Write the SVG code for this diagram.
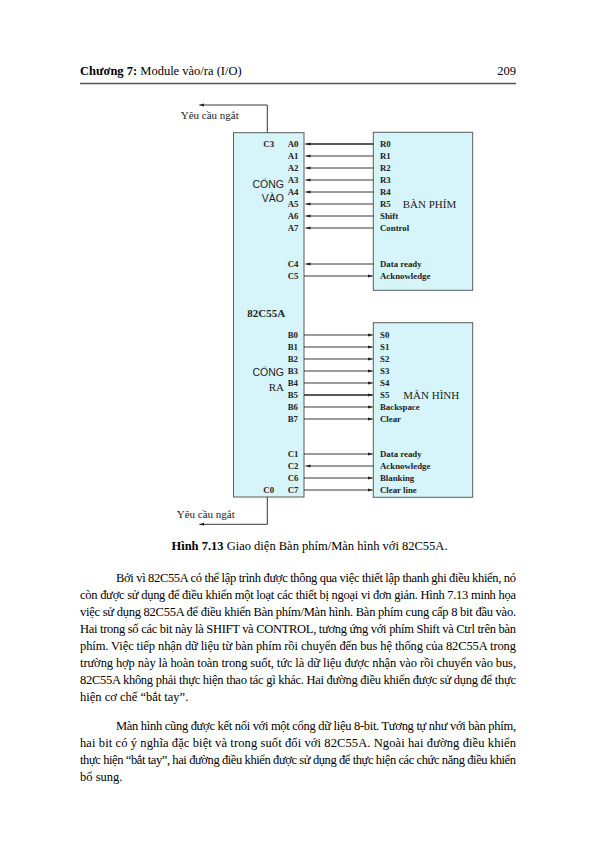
<svg xmlns="http://www.w3.org/2000/svg" width="595" height="842" viewBox="0 0 595 842">
<style>
.page{font-family:"Liberation Serif","Times New Roman",serif;font-size:12.5px;fill:#000}
.b{font-weight:bold}
.box{fill:#d6f5fa;stroke:#5a5a5a;stroke-width:1}
.pin{font-family:"Liberation Serif","Times New Roman",serif;font-size:8.8px;font-weight:bold;fill:#222}
.big{font-family:"Liberation Serif","Times New Roman",serif;font-size:11px;fill:#222}
.sans{font-family:"Liberation Sans",Arial,sans-serif;font-size:10.5px;fill:#222}
.wire{stroke:#222;stroke-width:0.9;fill:none}
</style>
<defs>
<marker id="ah" markerUnits="userSpaceOnUse" markerWidth="6" markerHeight="3.4" refX="5" refY="1.6" orient="auto">
<path d="M0,0 L5,1.6 L0,3.2 z" fill="#222"/>
</marker>
</defs>
<rect width="595" height="842" fill="#fff"/>

<!-- page header -->
<g id="header">
<text class="page" x="80" y="75"><tspan class="b">Chương 7:</tspan> Module vào/ra (I/O)</text>
<text class="page" x="516" y="75" text-anchor="end">209</text>
<line x1="80" y1="83.5" x2="516" y2="83.5" stroke="#555" stroke-width="1.3"/>
</g>

<!-- nodes -->
<g id="node-82c55a">
<rect class="box" x="233.5" y="132.7" width="70.5" height="364.3"/>
<text class="pin" x="263.3" y="147">C3</text>
<text class="pin" x="287.7" y="147">A0</text>
<text class="pin" x="287.7" y="159">A1</text>
<text class="pin" x="287.7" y="171">A2</text>
<text class="pin" x="287.7" y="183">A3</text>
<text class="pin" x="287.7" y="195">A4</text>
<text class="pin" x="287.7" y="207">A5</text>
<text class="pin" x="287.7" y="219">A6</text>
<text class="pin" x="287.7" y="231">A7</text>
<text class="pin" x="287.7" y="267">C4</text>
<text class="pin" x="287.7" y="279">C5</text>
<text class="sans" x="284" y="188" text-anchor="end">CỔNG</text>
<text class="sans" x="284" y="201.5" text-anchor="end">VÀO</text>
<text class="big b" x="247.3" y="316.5">82C55A</text>
<text class="pin" x="287.7" y="338">B0</text>
<text class="pin" x="287.7" y="350">B1</text>
<text class="pin" x="287.7" y="362">B2</text>
<text class="pin" x="287.7" y="374">B3</text>
<text class="pin" x="287.7" y="386">B4</text>
<text class="pin" x="287.7" y="398">B5</text>
<text class="pin" x="287.7" y="410">B6</text>
<text class="pin" x="287.7" y="422">B7</text>
<text class="pin" x="287.7" y="457">C1</text>
<text class="pin" x="287.7" y="469">C2</text>
<text class="pin" x="287.7" y="481">C6</text>
<text class="pin" x="287.7" y="493">C7</text>
<text class="pin" x="263.3" y="493">C0</text>
<text class="sans" x="284" y="376" text-anchor="end">CỔNG</text>
<text class="big" x="284" y="391" text-anchor="end">RA</text>
</g>

<g id="node-keyboard">
<rect class="box" x="373.3" y="132.3" width="99.4" height="158"/>
<text class="pin" x="380" y="147">R0</text>
<text class="pin" x="380" y="159">R1</text>
<text class="pin" x="380" y="171">R2</text>
<text class="pin" x="380" y="183">R3</text>
<text class="pin" x="380" y="195">R4</text>
<text class="pin" x="380" y="207">R5</text>
<text class="pin" x="380" y="219">Shift</text>
<text class="pin" x="380" y="231">Control</text>
<text class="pin" x="380" y="267">Data ready</text>
<text class="pin" x="380" y="279">Acknowledge</text>
<text class="big" x="402.7" y="208">BÀN PHÍM</text>
</g>

<g id="node-display">
<rect class="box" x="373.3" y="322.7" width="99.4" height="174.6"/>
<text class="pin" x="380" y="338">S0</text>
<text class="pin" x="380" y="350">S1</text>
<text class="pin" x="380" y="362">S2</text>
<text class="pin" x="380" y="374">S3</text>
<text class="pin" x="380" y="386">S4</text>
<text class="pin" x="380" y="398">S5</text>
<text class="pin" x="380" y="410">Backspace</text>
<text class="pin" x="380" y="422">Clear</text>
<text class="pin" x="380" y="457">Data ready</text>
<text class="pin" x="380" y="469">Acknowledge</text>
<text class="pin" x="380" y="481">Blanking</text>
<text class="pin" x="380" y="493">Clear line</text>
<text class="big" x="403.3" y="398.5">MÀN HÌNH</text>
</g>

<!-- connectors -->
<g id="connectors" class="wire">
<line x1="373.3" y1="144" x2="305.5" y2="144" marker-end="url(#ah)" stroke-width="1.3"/>
<line x1="373.3" y1="156" x2="305.5" y2="156" marker-end="url(#ah)"/>
<line x1="373.3" y1="168" x2="305.5" y2="168" marker-end="url(#ah)"/>
<line x1="373.3" y1="180" x2="305.5" y2="180" marker-end="url(#ah)"/>
<line x1="373.3" y1="192" x2="305.5" y2="192" marker-end="url(#ah)"/>
<line x1="373.3" y1="204" x2="305.5" y2="204" marker-end="url(#ah)"/>
<line x1="373.3" y1="216" x2="305.5" y2="216" marker-end="url(#ah)"/>
<line x1="373.3" y1="228" x2="305.5" y2="228" marker-end="url(#ah)"/>
<line x1="373.3" y1="264" x2="305.5" y2="264" marker-end="url(#ah)"/>
<line x1="304" y1="276" x2="372.8" y2="276" marker-end="url(#ah)"/>
<line x1="304" y1="335" x2="372.8" y2="335" marker-end="url(#ah)"/>
<line x1="304" y1="347" x2="372.8" y2="347" marker-end="url(#ah)"/>
<line x1="304" y1="359" x2="372.8" y2="359" marker-end="url(#ah)"/>
<line x1="304" y1="371" x2="372.8" y2="371" marker-end="url(#ah)"/>
<line x1="304" y1="383" x2="372.8" y2="383" marker-end="url(#ah)"/>
<line x1="304" y1="395" x2="372.8" y2="395" marker-end="url(#ah)" stroke-width="1.3"/>
<line x1="304" y1="407" x2="372.8" y2="407" marker-end="url(#ah)"/>
<line x1="304" y1="419" x2="372.8" y2="419" marker-end="url(#ah)"/>
<line x1="304" y1="454" x2="372.8" y2="454" marker-end="url(#ah)"/>
<line x1="373.3" y1="466" x2="305.5" y2="466" marker-end="url(#ah)"/>
<line x1="304" y1="478" x2="372.8" y2="478" marker-end="url(#ah)"/>
<line x1="304" y1="490" x2="372.8" y2="490" marker-end="url(#ah)"/>
<polyline points="267.3,132.7 267.3,105 199.3,105" marker-end="url(#ah)"/>
<polyline points="267.3,497 267.3,524.3 199.3,524.3" marker-end="url(#ah)"/>
</g>
<g id="connector-labels">
<text class="big" x="180.7" y="119">Yêu cầu ngắt</text>
<text class="big" x="176.7" y="518">Yêu cầu ngắt</text>
</g>

<!-- caption and body text -->
<g id="caption">
<text class="page" x="309.5" y="550" text-anchor="middle"><tspan class="b">Hình 7.13</tspan> Giao diện Bàn phím/Màn hình với 82C55A.</text>
</g>
<g id="body" class="page">
<text x="116" y="582" textLength="400" lengthAdjust="spacing">Bởi vì 82C55A có thể lập trình được thông qua việc thiết lập thanh ghi điều khiển, nó</text>
<text x="80" y="599" textLength="436" lengthAdjust="spacing">còn được sử dụng để điều khiển một loạt các thiết bị ngoại vi đơn giản. Hình 7.13 minh họa</text>
<text x="80" y="616" textLength="436" lengthAdjust="spacing">việc sử dụng 82C55A để điều khiển Bàn phím/Màn hình. Bàn phím cung cấp 8 bit đầu vào.</text>
<text x="80" y="633" textLength="436" lengthAdjust="spacing">Hai trong số các bit này là SHIFT và CONTROL, tương ứng với phím Shift và Ctrl trên bàn</text>
<text x="80" y="650" textLength="436" lengthAdjust="spacing">phím. Việc tiếp nhận dữ liệu từ bàn phím rồi chuyển đến bus hệ thống của 82C55A trong</text>
<text x="80" y="667" textLength="436" lengthAdjust="spacing">trường hợp này là hoàn toàn trong suốt, tức là dữ liệu được nhận vào rồi chuyển vào bus,</text>
<text x="80" y="684" textLength="436" lengthAdjust="spacing">82C55A không phải thực hiện thao tác gì khác. Hai đường điều khiển được sử dụng để thực</text>
<text x="80" y="701">hiện cơ chế “bắt tay”.</text>
<text x="116" y="730" textLength="400" lengthAdjust="spacing">Màn hình cũng được kết nối với một cổng dữ liệu 8-bit. Tương tự như với bàn phím,</text>
<text x="80" y="747" textLength="436" lengthAdjust="spacing">hai bit có ý nghĩa đặc biệt và trong suốt đối với 82C55A. Ngoài hai đường điều khiển</text>
<text x="80" y="764" textLength="436" lengthAdjust="spacing">thực hiện “bắt tay”, hai đường điều khiển được sử dụng để thực hiện các chức năng điều khiển</text>
<text x="80" y="781">bổ sung.</text>
</g>
</svg>
